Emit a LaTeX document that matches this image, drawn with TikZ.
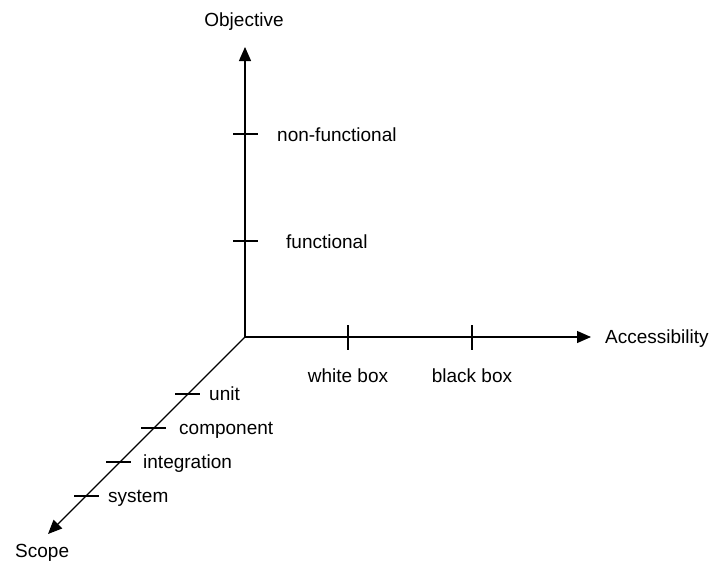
\documentclass[tikz,border=0pt]{standalone}
\usepackage{fontspec}
\setmainfont{Liberation Sans}
\usetikzlibrary{arrows.meta}

\begin{document}
\begin{tikzpicture}[x=1pt,y=-1pt,
  axis/.style={line width=1.2pt,-{Triangle[length=14pt,width=12pt]}},
  tick/.style={line width=1.2pt},
  lbl/.style={anchor=base west,inner sep=0pt,font=\fontsize{19}{23}\selectfont},
  clbl/.style={anchor=base,inner sep=0pt,font=\fontsize{19}{23}\selectfont}]
  \useasboundingbox (0,0) rectangle (710,562);

  % axes
  \coordinate (O) at (245,337);
  \coordinate (objtip) at (245,47);
  \coordinate (acctip) at (591,337);
  \coordinate (scotip) at (48,534);
  \draw[axis] (O) -- (objtip);
  \draw[axis] (O) -- (acctip);
  \draw[axis] (O) -- (scotip);

  % axis titles
  \node[clbl] (objective) at (244,27) {Objective};
  \node[lbl] (accessibility) at (605,343) {Accessibility};
  \node[lbl] (scope) at (15,557) {Scope};

  % objective ticks
  \coordinate (nfA) at (233,134); \coordinate (nfB) at (258,134);
  \coordinate (fA) at (233,241);  \coordinate (fB) at (258,241);
  \draw[tick] (nfA) -- (nfB);
  \draw[tick] (fA) -- (fB);
  \node[lbl] (nonfunctional) at (277,141) {non-functional};
  \node[lbl] (functional) at (286,248) {functional};

  % accessibility ticks
  \coordinate (wbA) at (348,325); \coordinate (wbB) at (348,350);
  \coordinate (bbA) at (472,325); \coordinate (bbB) at (472,350);
  \draw[tick] (wbA) -- (wbB);
  \draw[tick] (bbA) -- (bbB);
  \node[clbl] (whitebox) at (348,382) {white box};
  \node[clbl] (blackbox) at (472,382) {black box};

  % scope ticks
  \coordinate (uA) at (175,394); \coordinate (uB) at (200,394);
  \coordinate (cA) at (141,428); \coordinate (cB) at (166,428);
  \coordinate (iA) at (106,462); \coordinate (iB) at (131,462);
  \coordinate (sA) at (74,496);  \coordinate (sB) at (99,496);
  \draw[tick] (uA) -- (uB);
  \draw[tick] (cA) -- (cB);
  \draw[tick] (iA) -- (iB);
  \draw[tick] (sA) -- (sB);
  \node[lbl] (unit) at (209,400) {unit};
  \node[lbl] (component) at (179,434) {component};
  \node[lbl] (integration) at (143,468) {integration};
  \node[lbl] (system) at (108,502) {system};
\end{tikzpicture}
\end{document}
